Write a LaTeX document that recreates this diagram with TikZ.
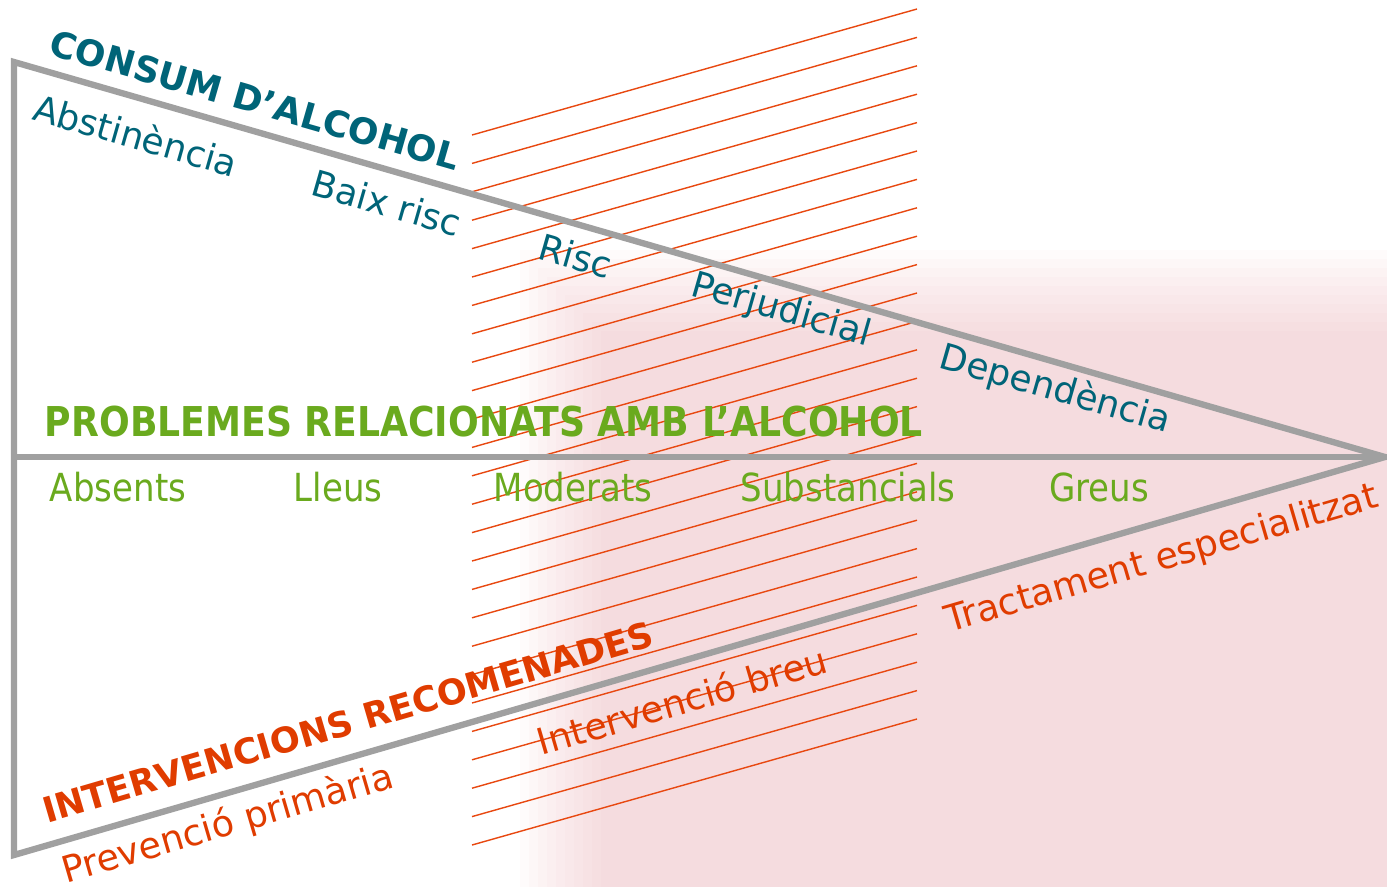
\documentclass[tikz,border=0pt]{standalone}
\usepackage{fontspec}
\setmainfont{DejaVu Sans}
\newfontfamily\narrowfont[FakeStretch=0.88]{DejaVu Sans}
\usepackage{xcolor}
\usetikzlibrary{positioning,calc}
\definecolor{alcTealText}{HTML}{006478}
\definecolor{alcGreenText}{HTML}{6AAA1E}
\definecolor{alcRedText}{HTML}{E03C00}
\definecolor{alcRedLine}{HTML}{E84810}
\definecolor{alcGreyLine}{HTML}{A0A0A0}
\definecolor{alcPinkWash}{HTML}{F2B4BA}

\tikzset{
  frame/.style={alcGreyLine, line width=3.6pt, line join=miter},
  hatch/.style={alcRedLine, line width=0.8pt},
  consumlab/.style={color=alcTealText, font=\fontsize{20.5}{22}\selectfont, rotate=-16, inner sep=0pt},
  problab/.style={color=alcGreenText, font=\narrowfont\fontsize{22}{24}\selectfont, inner sep=0pt},
  intervlab/.style={color=alcRedText, font=\fontsize{20.8}{22}\selectfont, rotate=16.3, inner sep=0pt}
}

\begin{document}
\begin{tikzpicture}[x=0.02cm, y=-0.02cm]

\useasboundingbox (0,0) rectangle (1387,887);
\fill[white] (0,0) rectangle (1387,887);

% --- WATERMARK (soft pink wash) ---
\foreach \k in {0,...,9} {
  \fill[alcPinkWash, opacity=0.05] (520+\k*9, 250+\k*9) rectangle (1387, 887);
}

% --- HATCHING ---
\foreach \i in {0,...,25} {
  \draw[hatch] (472, 135+28.4*\i) -- ++(445,-126);
}

% --- FRAME ---
\coordinate (topL) at (14,62);
\coordinate (botL) at (14,855);
\coordinate (midL) at (14,457);
\coordinate (apex) at (1385,457);
\draw[frame] (topL) -- (apex) -- (botL) -- cycle;
\draw[frame] (midL) -- (apex);

% --- CONSUM D'ALCOHOL ---
\node[consumlab, font=\bfseries\fontsize{20.4}{22}\selectfont] (consum) at (255,100) {CONSUM D’ALCOHOL};
\node[consumlab] (abstin) at (136,135) {Abstinència};
\node[consumlab] (baixrisc) at (387,203) {Baix risc};
\node[consumlab] (risc) at (576,256) {Risc};
\node[consumlab] (perjud) at (781,311) {Perjudicial};
\node[consumlab] (depend) at (1055,390) {Dependència};

% --- PROBLEMES ---
\node[problab, font=\narrowfont\bfseries\fontsize{23.4}{25}\selectfont] (problemes) at (484,422) {PROBLEMES RELACIONATS AMB L’ALCOHOL};
\node[problab] (absents) at (118,487) {Absents};
\node[problab] (lleus) at (338,487) {Lleus};
\node[problab] (moderats) at (573,487) {Moderats};
\node[problab] (substanc) at (848,487) {Substancials};
\node[problab] (greus) at (1099,487) {Greus};

% --- INTERVENCIONS ---
\node[intervlab, font=\bfseries\fontsize{20}{22}\selectfont] (interv) at (348,722) {INTERVENCIONS RECOMENADES};
\node[intervlab] (prevencio) at (228,825) {Prevenció primària};
\node[intervlab] (breu) at (682,700) {Intervenció breu};
\node[intervlab] (tractament) at (1162,560) {Tractament especialitzat};

\end{tikzpicture}
\end{document}
